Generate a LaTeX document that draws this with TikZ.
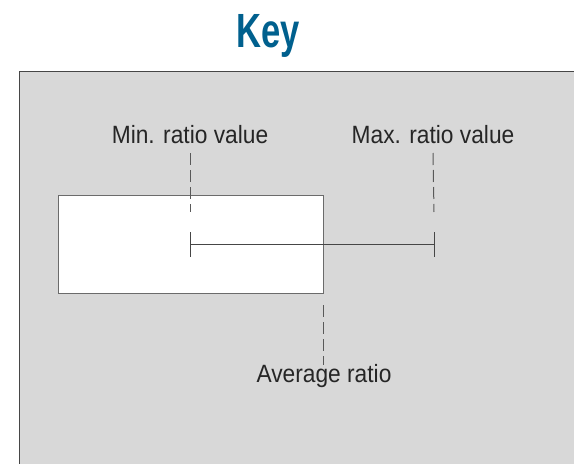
\documentclass[tikz,border=0pt]{standalone}
\usepackage{fontspec}
\setmainfont{Liberation Sans}
\usepackage{xcolor}
\usetikzlibrary{positioning}
\definecolor{keyblue}{RGB}{0,96,142}
\definecolor{panelgray}{RGB}{216,216,216}
\definecolor{edgegray}{RGB}{70,70,70}
\tikzstyle{panel} = [fill=panelgray, draw=edgegray, line width=1pt]
\tikzstyle{bar} = [rectangle, draw=edgegray!80, fill=white, line width=0.8pt,
    minimum width=265pt, minimum height=98pt, inner sep=0pt]
\tikzstyle{label} = [anchor=base, inner sep=0pt, xscale=0.91, transform shape,
    text=black!85, font=\fontsize{25}{28}\selectfont]
\tikzstyle{guide} = [draw=edgegray!90, line width=1pt, dash pattern=on 12pt off 5pt]
\tikzstyle{line} = [draw=edgegray, line width=0.8pt]

\begin{document}
\begin{tikzpicture}[x=1pt, y=-1pt]
  \useasboundingbox (0,0) rectangle (574,464);
  \fill[white] (0,0) rectangle (574,464);
  \draw[panel] (19,71) rectangle (600,500);
  % Place nodes
  \node [anchor=base, inner sep=0pt, text=keyblue, xscale=0.72, transform shape,
         font=\bfseries\fontsize{48}{52}\selectfont] (key) at (268,47) {Key};
  \node [bar] (avg) at (190.5,244) {};
  \node [label] (minlabel) at (190,143) {Min. ratio value};
  \node [label] (maxlabel) at (433,143) {Max. ratio value};
  \node [label] (avglabel) at (324,382) {Average ratio};
  \coordinate (minval) at (190,244);
  \coordinate (maxval) at (434,244);
  % Draw edges
  \path [line] (minval) -- (maxval);
  \path [line] ([yshift=12pt]minval) -- ([yshift=-13pt]minval);
  \path [line] ([yshift=12pt]maxval) -- ([yshift=-13pt]maxval);
  \path [guide] ([yshift=-10pt]minlabel.base) -- ([yshift=32pt]minval);
  \path [guide] ([yshift=-10pt]maxlabel.base) -- ([yshift=32pt]maxval);
  \path [guide] ([yshift=-12pt]avg.south east) -- ([yshift=-1pt]avglabel.north -| avg.south east);
\end{tikzpicture}
\end{document}
